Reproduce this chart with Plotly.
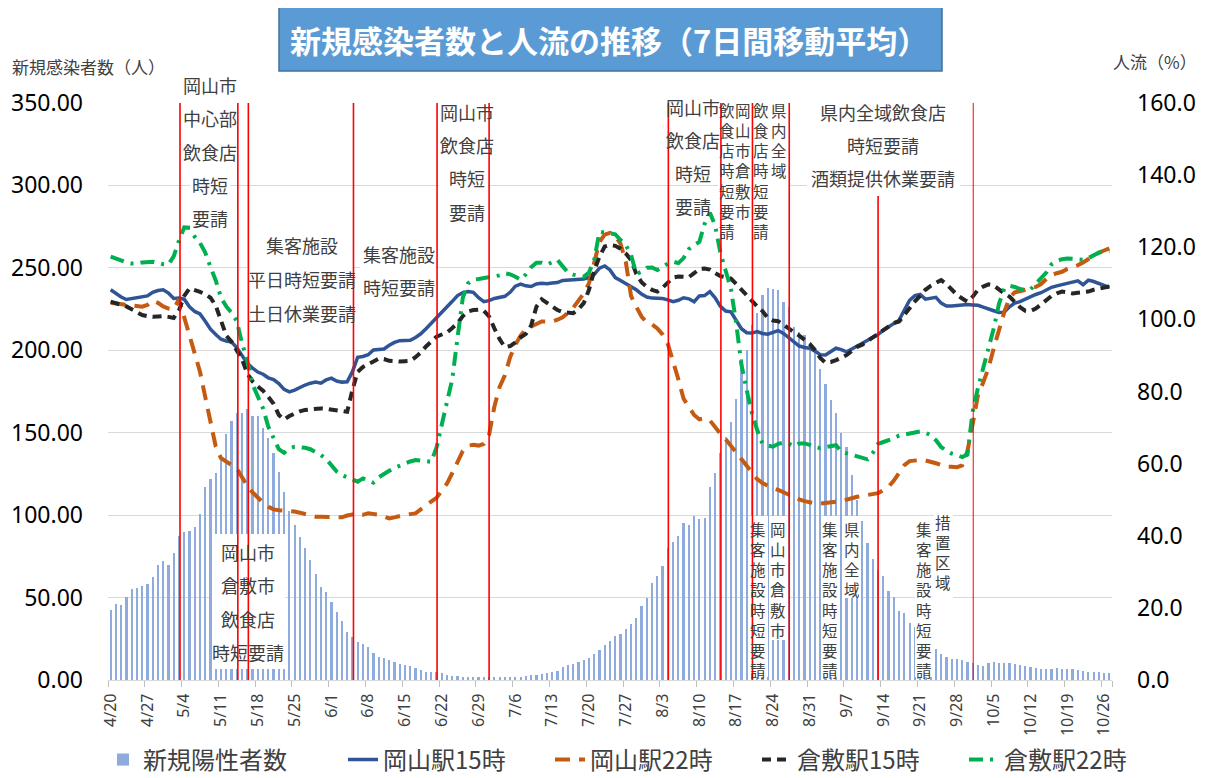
import plotly.graph_objects as go

# ---------------- data ----------------
day_index = list(range(191))  # 4/20 .. 10/27 (daily)
tick_days = list(range(0, 190, 7))
tick_labels = ["4/20", "4/27", "5/4", "5/11", "5/18", "5/25", "6/1", "6/8", "6/15", "6/22",
               "6/29", "7/6", "7/13", "7/20", "7/27", "8/3", "8/10", "8/17", "8/24", "8/31",
               "9/7", "9/14", "9/21", "9/28", "10/5", "10/12", "10/19", "10/26"]

new_cases = [
    42.5, 46, 45.5, 50.5, 55, 55.6, 57, 58, 62.3, 69.8,
    72.2, 69.8, 76.8, 87.3, 90, 90.4, 92.6, 100.7, 116.9, 121.9,
    125.8, 134.9, 149, 157.1, 162.1, 161.7, 164.4, 160.1, 160.1, 152.6,
    147, 137.9, 126.4, 113.8, 102.5, 94, 86.9, 79.8, 72.8, 64.1,
    56.2, 53.6, 47.5, 41.4, 36, 29.3, 26.3, 23.2, 21.8, 20.2,
    16.6, 13.8, 13.1, 12.1, 11.1, 9.7, 9.1, 8.5, 7.5, 6.1,
    5.1, 5.1, 4.6, 4.4, 3, 2.4, 2.4, 2, 2, 1.6,
    1.6, 1.6, 1.6, 2, 1.6, 1.6, 1.6, 2, 2, 2.4,
    3, 3, 3.4, 4, 4.6, 5.5, 8, 9, 9.5, 11,
    12, 13.5, 16, 18, 21, 23.9, 26.7, 27.7, 30.7, 34,
    37.4, 44.9, 50, 59, 63.1, 69.2, 79.9, 83.9, 87.3, 95,
    94, 99.5, 97.5, 98.1, 116.9, 125.8, 137.5, 147.2, 156.7, 170.3,
    194.5, 200.2, 215.3, 222.8, 233.5, 237.6, 237, 236.6, 229.5, 226.1,
    214.3, 211.3, 209.3, 203.2, 199.1, 188.6, 179.4, 169.8, 161.8, 150,
    141.5, 124.3, 109.2, 96.4, 83.3, 73.4, 66.7, 63.1, 54, 50.5,
    41.9, 40.9, 34.8, 32.4, 27.7, 24.3, 21.8, 18.6, 15.8, 13.8,
    12.7, 12.7, 12.1, 10.7, 10.5, 9.1, 8.5, 10.1, 10.7, 10.5,
    10.1, 10.1, 9.5, 9.1, 8.5, 8.1, 7.1, 6.7, 6.7, 6.7,
    7.1, 6.7, 6.7, 6.5, 6.1, 5.7, 5.1, 4.6, 4.6, 4,
    4,
]

okayama_15 = [
    108.2, 107.2, 106.2, 105.5, 105.8, 106, 106.3, 106.5, 107.5, 108,
    108.2, 107.3, 105.8, 105.9, 105.6, 103.5, 102.2, 101.5, 99.5, 97.3,
    95.8, 94.5, 94, 93.7, 92.2, 89.8, 87.8, 86.5, 85.4, 84.8,
    83.8, 83.3, 82.2, 80.6, 79.9, 80.4, 81.2, 81.8, 82.3, 82.6,
    82.3, 83.2, 83.7, 82.9, 82.6, 82.7, 85.5, 89.5, 89.7, 90.2,
    91.5, 91.6, 91.8, 92.8, 93.6, 94.1, 94.1, 94.2, 95, 96,
    97.4, 99, 100.3, 102.2, 103.5, 105, 106.6, 107.4, 107.7, 107.5,
    106, 104.9, 105.2, 105.8, 106, 106.4, 107.5, 109.2, 109.8, 109.3,
    109.1, 109.8, 110, 109.9, 110.1, 110.2, 110.8, 110.9, 110.8, 110.9,
    111.2, 111.6, 112.5, 114.2, 114.8, 113.7, 111.6, 110.8, 109.9, 108.9,
    108.2, 107, 106.2, 105.9, 105.8, 105.8, 105.4, 104.9, 105.3, 106,
    105.7, 104.9, 106.5, 106.6, 107.7, 106, 103.6, 102.3, 102.1, 99.6,
    97.4, 96.3, 96.2, 96.6, 96.1, 95.9, 96.4, 96.9, 96.1, 94.9,
    93.7, 92.6, 92.2, 92, 91.2, 90.2, 90.1, 91.2, 92, 91.6,
    91, 91.8, 92.7, 93.4, 94.2, 95.1, 95.8, 97, 98, 98.9,
    99.8, 102.6, 105.3, 106.6, 106.9, 105.6, 105.8, 106.1, 104.5, 103.7,
    103.7, 103.9, 104, 104.1, 104, 103.9, 103.4, 102.8, 102.4, 101.9,
    102, 103.5, 104.5, 104.9, 105.6, 106.4, 106.9, 107.4, 108.2, 108.9,
    109.3, 109.7, 110, 110.4, 110.7, 109.6, 110.9, 110.5, 110, 109.4,
    108.9,
]

okayama_22 = [
    104.6, 104.4, 104.2, 104, 103.8, 103.6, 103.5, 104, 105.2, 104.6,
    103.6, 103, 102.8, 105.6, 100.5, 95, 90.5, 85.5, 78.5, 71,
    64.7, 61.5, 60.6, 59.7, 58.7, 56.2, 53.8, 52, 50.5, 49.2,
    48, 47.3, 47.1, 47, 46.9, 46.7, 46.4, 46, 45.6, 45.3,
    45.3, 45.3, 45.2, 45.1, 45.1, 45.6, 45.9, 45.9, 45.8, 46.2,
    46, 45.8, 45.3, 44.8, 45.1, 45.5, 45.8, 46, 46.2, 47.3,
    48.5, 49.5, 50.5, 52.5, 54.5, 57.4, 60.3, 63.5, 65, 65.2,
    65, 65.5, 68, 75.8, 81.3, 84.5, 89.5, 93, 95.5, 97.3,
    98, 98.8, 99.4, 99.4, 99.4, 99.9, 100.6, 101.8, 103.2, 105.2,
    107.2, 110, 116.2, 121.5, 123.5, 124, 123.2, 121, 116, 106.5,
    103.5, 100.8, 99.1, 98.6, 97.5, 95.8, 93.2, 88.5, 83.4, 78,
    75.8, 73.5, 72.3, 72.6, 72, 70, 68.3, 66.8, 65, 63.3,
    61.4, 59.5, 57.6, 55.7, 54.6, 53.8, 53.2, 52.7, 52, 51.3,
    50.8, 50.1, 49.6, 49.2, 49, 48.9, 49, 49.1, 49.4, 49.6,
    49.9, 50.4, 50.8, 51.1, 51.4, 51.6, 51.8, 52.6, 53.6, 55.3,
    57.3, 59.6, 60.7, 60.9, 61, 60.9, 60.6, 60.1, 59.6, 59.1,
    59.1, 59, 59.5, 63.5, 71, 79, 82.5, 86.5, 92, 97,
    102, 106, 107.5, 107.8, 108.3, 108.6, 109, 109.8, 111.2, 112.3,
    112.8, 113.2, 114, 114.4, 115, 115.8, 116.8, 117.7, 118.5, 119.1,
    119.7,
]

kurashiki_15 = [
    104.9, 104.5, 104, 103.6, 102.8, 101.9, 101.2, 100.9, 100.7, 100.8,
    100.9, 100.7, 100.4, 102.5, 106.5, 108.6, 108.2, 107.6, 107, 106,
    103.8, 99.5, 95.5, 93.8, 91.5, 88.9, 85, 82.8, 81.4, 80.2,
    78.5, 76.6, 73.5, 72.2, 73.2, 74, 74.5, 74.9, 75.1, 75.3,
    75.3, 75.2, 75, 74.8, 74.5, 74.4, 80.4, 85.5, 86.8, 87.4,
    88.3, 89.1, 89, 88.5, 88.3, 88.3, 88.4, 88.5, 89.5, 90.8,
    92.5, 94, 95.2, 95.8, 96.4, 97.6, 99, 100.9, 102.2, 102.6,
    102.7, 102.4, 100.8, 97.5, 94.5, 92.3, 92.6, 93.6, 95, 96,
    98.3, 103.5, 105.6, 104.6, 103.6, 102.6, 102, 101.8, 101.7, 102.8,
    104.5, 108.2, 113.5, 117.4, 120.2, 120.6, 120.4, 119.6, 118.3, 116.5,
    112.6, 110.3, 109, 108.2, 107.7, 108.8, 110.2, 111.6, 111.9, 111.8,
    111.7, 112.8, 114, 114.1, 113.8, 112.8, 112, 111.7, 111.3, 109.8,
    108.2, 106.5, 104.8, 103.6, 102.3, 100.4, 99.7, 99.5, 98.5, 97.3,
    96.4, 95.5, 94.5, 93.2, 91.5, 89.3, 88, 88.2, 88.7, 89.4,
    90.1, 91.2, 92.4, 93, 94, 95.2, 96.2, 97.3, 98.2, 99,
    99.4, 101.3, 103.3, 105, 106.5, 108.2, 109.3, 110.2, 110.9, 109.8,
    108.2, 106.8, 105.8, 104.9, 106.3, 108.2, 109.1, 109.7, 109.4, 108.2,
    107.2, 106.3, 104.8, 103.4, 102.4, 102.3, 103, 104.2, 105.5, 106.5,
    107.2, 107.7, 107.5, 107.2, 107.4, 107.6, 107.7, 108.2, 108.6, 108.8,
    109.1,
]

kurashiki_22 = [
    117.4, 116.8, 116.2, 115.8, 115.5, 115.5, 115.8, 116, 116, 115.7,
    115.3, 115.2, 117.5, 121.8, 125.5, 125.4, 122.9, 121.2, 118.5, 114.5,
    110.8, 106, 103.6, 101.8, 99.5, 93.4, 88.5, 82, 78.5, 75.3,
    70.2, 66.8, 64, 63, 64.2, 64.7, 64.6, 64.4, 64, 63.3,
    62.4, 61.3, 59.4, 57.8, 56.8, 56.2, 55.4, 55, 55.9, 55.4,
    54.7, 56.2, 57.2, 58, 58.8, 59.5, 60, 60.6, 61, 60.9,
    60.7, 60.5, 64.5, 71, 77.5, 83.5, 95, 106, 110, 111,
    111.2, 111.4, 111.6, 111.8, 112.2, 112.8, 112.5, 111.8, 111, 112.5,
    114.5, 115.7, 115.7, 115.2, 115.8, 116.5, 114.7, 113, 112.4, 112,
    111.8, 113, 116.5, 124.3, 124, 123.9, 123.6, 122, 120.6, 117.9,
    112.6, 113.2, 114.3, 114.4, 113.7, 114.5, 115.5, 116, 115.6, 117,
    119.5, 120.6, 121.5, 126.5, 129.6, 126, 118.5, 113.5, 108.5, 99,
    87.5, 80.4, 74, 69.3, 65.6, 65, 64.7, 65.5, 65.8, 65.6,
    64.8, 65.6, 65.6, 65.2, 64.6, 64.3, 64.5, 64.7, 65.1, 63.3,
    62.9, 62.5, 62.2, 61.8, 61.2, 63, 65.5, 66, 66.4, 67,
    67.8, 68.1, 68.4, 68.6, 68.9, 68.6, 67.9, 66.5, 64.6, 63.6,
    62.8, 62.4, 61.8, 62.5, 74.5, 81, 86.5, 91, 97.5, 104.3,
    108.5, 109.3, 109, 108.4, 108.2, 108.3, 110, 111.4, 113, 115.3,
    116.2, 116.7, 116.9, 116.8, 116.6, 116.5, 117, 117.9, 118.5, 118.8,
    119,
]

# policy event dates (day offsets from 4/20)
event_days = [13.2, 24.2, 26.2, 46.2, 62.1, 72.0, 106.1, 116.1, 122.1, 129.1, 146.0, 164.1]

# ---------------- layout helpers (screen pixel coords) ----------------
OFF = 8                      # page body margin
W, H = 1206 - OFF, 778 - OFF
PL, PR, PT, PB = 108, 1112, 103, 680
FONT = "Noto Sans CJK JP"
TXT = "#404040"


def px(x):
    return (x - PL) / (PR - PL)


def py(y):
    return (PB - y) / (PB - PT)


fig = go.Figure()
fig.add_trace(go.Bar(x=day_index, y=new_cases, name="新規陽性者数", legend="legend",
                     marker=dict(color="#8FAADC", line=dict(width=0)), width=0.42, yaxis="y"))
fig.add_trace(go.Scatter(x=day_index, y=okayama_15, name="岡山駅15時", mode="lines", legend="legend2",
                         line=dict(color="#2F5597", width=3.5), yaxis="y2"))
fig.add_trace(go.Scatter(x=day_index, y=okayama_22, name="岡山駅22時", mode="lines", legend="legend2",
                         line=dict(color="#C55A11", width=4, dash="15px,9px"), yaxis="y2"))
fig.add_trace(go.Scatter(x=day_index, y=kurashiki_15, name="倉敷駅15時", mode="lines", legend="legend2",
                         line=dict(color="#262626", width=4, dash="9px,6px"), yaxis="y2"))
fig.add_trace(go.Scatter(x=day_index, y=kurashiki_22, name="倉敷駅22時", mode="lines", legend="legend2",
                         line=dict(color="#00B050", width=4, dash="14px,7px,3px,7px"), yaxis="y2"))

shapes = []
annotations = []

# title box
shapes.append(dict(type="rect", xref="paper", yref="paper", x0=px(279), x1=px(942), y0=py(71), y1=py(7),
                   fillcolor="#5B9BD5", line=dict(color="#41719C", width=1.5), layer="above"))
annotations.append(dict(xref="paper", yref="paper", x=px(609), y=py(39), xanchor="center", yanchor="middle",
                        text="<b>新規感染者数と人流の推移（7日間移動平均）</b>", showarrow=False,
                        font=dict(family=FONT, size=31, color="white")))

# axis titles
annotations.append(dict(xref="paper", yref="paper", x=px(10), y=py(66), xanchor="left", yanchor="middle",
                        text="新規感染者数（人）", showarrow=False, font=dict(family=FONT, size=17, color=TXT)))
annotations.append(dict(xref="paper", yref="paper", x=px(1199), y=py(62), xanchor="right", yanchor="middle",
                        text="人流（%）", showarrow=False, font=dict(family=FONT, size=17, color=TXT)))

# horizontal text groups: (lines, center x px, first line y px, step px, white per-line bg)
hgroups = [
    (["岡山市", "中心部", "飲食店", "時短", "要請"], 210, 85, 33.3, True),
    (["集客施設", "平日時短要請", "土日休業要請"], 302, 245, 34, False),
    (["集客施設", "時短要請"], 399, 254, 33, False),
    (["岡山市", "飲食店", "時短", "要請"], 467, 111.7, 33.3, False),
    (["岡山市", "倉敷市", "飲食店", "時短要請"], 248, 552.3, 33.1, False),
    (["岡山市", "飲食店", "時短", "要請"], 693, 106.7, 33.1, False),
    (["県内全域飲食店", "時短要請", "酒類提供休業要請"], 883, 111.7, 33.3, False),
]
HFS = 18
for lines, cx, y0, step, perline in hgroups:
    for i, t in enumerate(lines):
        yy = y0 + i * step
        if perline:
            hw = len(t) * HFS / 2 + 2
            shapes.append(dict(type="rect", xref="paper", yref="paper", x0=px(cx - hw), x1=px(cx + hw),
                               y0=py(yy + 12), y1=py(yy - 12), fillcolor="white", line=dict(width=0),
                               layer="above"))
        annotations.append(dict(xref="paper", yref="paper", x=px(cx), y=py(yy), xanchor="center",
                                yanchor="middle", text=t, showarrow=False,
                                font=dict(family=FONT, size=HFS, color=TXT)))

# vertical text columns: (text, center x px, first char center y px)
vcols = [
    ("飲食店時短要請", 726.7, 108.3),
    ("岡山市倉敷市", 743.3, 108.3),
    ("飲食店時短要請", 761, 108.3),
    ("県内全域", 779.3, 108.3),
    ("集客施設時短要請", 758.3, 526.7),
    ("岡山市倉敷市", 778.3, 526.7),
    ("集客施設時短要請", 830, 526.7),
    ("県内全域", 851.7, 526.7),
    ("集客施設時短要請", 924, 526.7),
    ("措置区域", 943.3, 520),
]
VFS = 15.5
for t, cx, ytop in vcols:
    annotations.append(dict(xref="paper", yref="paper", x=px(cx), y=py(ytop - VFS * 0.65), xanchor="center",
                            yanchor="top", text="<br>".join(list(t)), showarrow=False, borderpad=0,
                            font=dict(family=FONT, size=VFS, color=TXT)))

# white text boxes (pixel rects)
white_boxes = [
    (247, 229, 353, 329), (360, 238, 436, 303), (439, 97, 488, 227), (807, 95, 960, 193),
    (212, 534, 285, 669), (718, 97, 790, 238),
    (749, 516, 768, 677), (769, 516, 788, 640), (821, 516, 840, 677), (842, 516, 861, 598),
    (915, 516, 934, 677), (934, 509, 953, 598),
]
for x0, y0, x1, y1 in white_boxes:
    shapes.append(dict(type="rect", xref="paper", yref="paper", x0=px(x0), x1=px(x1), y0=py(y1), y1=py(y0),
                       fillcolor="white", line=dict(width=0), layer="above"))

# event lines
for i, d in enumerate(event_days):
    top = py(196) if i == 10 else 1
    shapes.append(dict(type="line", xref="x", yref="paper", x0=d, x1=d, y0=0, y1=top,
                       line=dict(color="#FF0000", width=1 if i == 11 else 1.6), layer="above"))

legend_mid = py(760)
fig.update_layout(
    width=W, height=H, autosize=False,
    margin=dict(l=PL - OFF, r=(OFF + W) - PR, t=PT - OFF, b=(OFF + H) - PB, pad=0, autoexpand=False),
    paper_bgcolor="white", plot_bgcolor="white",
    font=dict(family=FONT, color=TXT),
    bargap=0,
    showlegend=True,
    legend=dict(orientation="h", x=px(103), xanchor="left", y=legend_mid, yanchor="middle",
                font=dict(family=FONT, size=24, color=TXT), bgcolor="rgba(0,0,0,0)"),
    legend2=dict(orientation="h", x=px(343), xanchor="left", y=legend_mid, yanchor="middle",
                 font=dict(family=FONT, size=24, color=TXT), traceorder="normal",
                 entrywidth=162, entrywidthmode="pixels", bgcolor="rgba(0,0,0,0)"),
    xaxis=dict(range=[-0.5, 190.5], tickmode="array", tickvals=tick_days, ticktext=tick_labels,
               tickangle=-90, tickfont=dict(family="Noto Sans", size=16, color=TXT), ticks="",
               showgrid=False, showline=True, linecolor="#D9D9D9", linewidth=1.3, zeroline=False,
               ticklabelstandoff=6, automargin=False,
               minor=dict(tickmode="array", tickvals=[d - 0.5 for d in tick_days] + [190.5],
                          ticks="outside", ticklen=6, tickcolor="#BFBFBF", tickwidth=1.3, showgrid=False)),
    yaxis=dict(range=[0, 350], tickmode="linear", tick0=0, dtick=50, tickformat=".2f",
               tickfont=dict(family="Noto Sans", size=23, color="#000000"), showgrid=True,
               gridcolor="#D9D9D9", gridwidth=1.3, zeroline=False, showline=False, ticks="",
               ticklabelstandoff=24, automargin=False),
    yaxis2=dict(range=[0, 160], tickmode="linear", tick0=0, dtick=20, tickformat=".1f", overlaying="y",
                side="right", tickfont=dict(family="Noto Sans", size=23, color="#000000"), showgrid=False,
                zeroline=False, showline=False, ticks="", ticklabelstandoff=24, automargin=False),
    shapes=shapes,
    annotations=annotations,
)

fig.write_html("out.html")
